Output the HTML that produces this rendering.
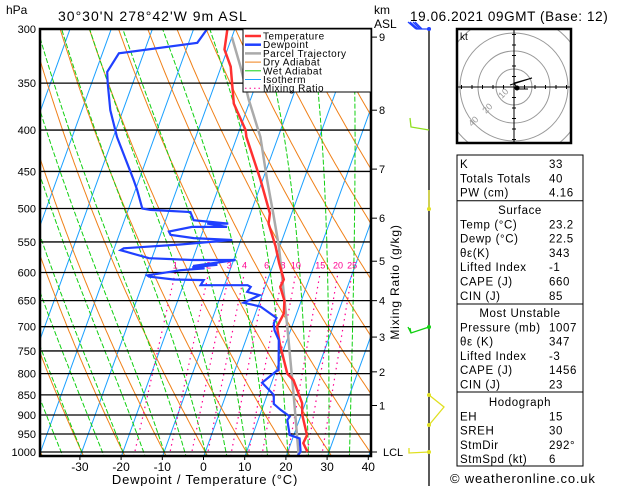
<!DOCTYPE html>
<html><head><meta charset="utf-8"><style>
html,body{margin:0;padding:0;background:#fff;}
svg{display:block;font-family:"Liberation Sans",sans-serif;}
#table text{letter-spacing:0.6px;}
</style></head><body>
<svg id="chart" width="629" height="486" viewBox="0 0 629 486" xmlns="http://www.w3.org/2000/svg">
<defs><clipPath id="plotclip"><rect x="40" y="29" width="331" height="427"/></clipPath>
<clipPath id="hodoclip"><rect x="457" y="29" width="114" height="114"/></clipPath></defs>
<rect width="629" height="486" fill="#fff"/>
<g id="bg" clip-path="url(#plotclip)"></g>
<g id="isobars"></g>
<g id="profiles" clip-path="url(#plotclip)"></g>
<rect x="40" y="29" width="331" height="427" fill="none" stroke="#000" stroke-width="2.5"/>
<text x="6" y="14" font-size="12">hPa</text>
<text x="58" y="21" font-size="14" letter-spacing="1">30°30'N  278°42'W  9m  ASL</text>
<text x="374" y="14" font-size="12">km</text>
<text x="374" y="28" font-size="12">ASL</text>
<text x="410" y="21" font-size="13.5" letter-spacing="0.6">19.06.2021  09GMT  (Base:  12)</text>
<text x="205" y="484" font-size="13" letter-spacing="0.8" text-anchor="middle">Dewpoint  /  Temperature  (°C)</text>
<text transform="translate(399,282) rotate(-90)" font-size="12" letter-spacing="0.8" text-anchor="middle">Mixing Ratio (g/kg)</text>
<g id="legend"></g>
<g id="axes"></g>
<g id="winds"></g>
<g id="hodo"></g>
<g id="table"></g>
<text x="450" y="483" font-size="13" letter-spacing="0.8">© weatheronline.co.uk</text>
</svg>
<script>
// ---- data ----
const tempP = [1000,975,953,900,870,815,800,734,700,674,650,625,612,584,557,522,507,461,408,400,371,350,334,318,300];
const tempT = [24.8,23.0,23.2,20.3,19.2,15.1,13.0,8.5,6.4,6.9,5.9,3.7,3.9,1.3,-1.0,-4.7,-5.3,-10.5,-17.7,-18.5,-23.7,-25.9,-27.7,-30.7,-31.8];
const dewP = [1013,999,962,953,913,904,887,872,850,821,796,792,727,707,693,683,661,654,640,634,625,622,622,613,612,607,605,596,593,591,587,589,583,579,579,576,563,560,554,547,544,539,534,527,527,522,522,517,505,502,500,474,461,408,378,350,339,321.5,312,300];
const dewT = [22.7,23.1,21.7,19.0,17.1,17.4,14.6,12.4,11.6,7.7,10.0,10.6,8.0,6.1,5.3,5.5,0.6,-3.8,-0.6,-3.9,-3.5,-4.4,-15.8,-15.5,-22.8,-29.1,-29.6,-22.0,-16.3,-19.4,-13.5,-19.3,-13.4,-9.5,-20.0,-30.7,-38.3,-37.7,-24.3,-12.1,-21.6,-27.5,-28.2,-23.0,-14.5,-19.6,-14.5,-23.2,-24.7,-34.6,-36.7,-39.6,-41.3,-49.1,-53.1,-56.1,-57.2,-56.0,-37.9,-36.7];
const parcelP = [1010,1000,854,700,557,507,461,408,367,334,307];
const parcelT = [22.9,22.6,16.6,8.9,-0.2,-4.5,-8.9,-14.3,-20.4,-25.3,-30];
const isobars = [300,350,400,450,500,550,600,650,700,750,800,850,900,950,1000];
const tempTicks = [-30,-20,-10,0,10,20,30,40];
const kmLabels = ['9','8','7','6','5','4','3','2','1','LCL'];
const kmPress = [307,378,447,514,581,650,721,796,876,1000];
const mixRatios = [1,2,3,4,6,8,10,15,20,25];
const dryThetaT = [-60,-50,-40,-30,-20,-10,0,10,20,30,40,50,60,70,80,90,100];
const wetT = [-40,-35,-30,-25,-20,-15,-10,-5,0,5,10,15,20,25,30,35];
const isoT = [-110,-100,-90,-80,-70,-60,-50,-40,-30,-20,-10,0,10,20,30,40];

const NS='http://www.w3.org/2000/svg';
function mk(tag,attrs,parent){const e=document.createElementNS(NS,tag);for(const k in attrs)e.setAttribute(k,attrs[k]);parent.appendChild(e);return e;}
function yP(p){return 29+Math.log(p/300)/Math.log(1000/300)*423;}
function xT(T,p){return 203.5+4.12*T+0.362*(457-yP(p));}
function pts(arrP,arrT){return arrP.map((p,i)=>xT(arrT[i],p).toFixed(1)+','+yP(p).toFixed(1)).join(' ');}
const bg=document.getElementById('bg');
const plevs=[];for(let p=1060;p>=280;p-=5)plevs.push(p);

isoT.forEach(t=>{
  const l=mk('line',{x1:xT(t,1060),y1:yP(1060),x2:xT(t,280),y2:yP(280),stroke:'#1aa0ff','stroke-width':1},bg);
  
  
});
dryThetaT.forEach(t=>{
  const th=t+273.15;
  const s=plevs.map(p=>xT(th*Math.pow(p/1000,0.2857)-273.15,p).toFixed(1)+','+yP(p).toFixed(1)).join(' ');
  const l=mk('polyline',{points:s,fill:'none',stroke:'#f08018','stroke-width':1},bg);
  
  
});
function es(tc){return 6.112*Math.exp(17.67*tc/(tc+243.5));}
function dTdp(T,p){const tc=T-273.15;const e=es(tc);const rs=0.622*e/(p-e);const Rd=287,Cp=1004,Lv=2.5e6;
  return (Rd*T+Lv*rs)/(p*(Cp+Lv*Lv*rs*0.622/(Rd*T*T)));}
wetT.forEach(t0=>{
  let T=t0+273.15;const arr=[];
  let Td=T;for(let p=1000;p<1060;p+=5){Td+=dTdp(Td,p)*5;}
  T=Td;
  for(let p=1060;p>=280;p-=5){arr.push(xT(T-273.15,p).toFixed(1)+','+yP(p).toFixed(1));T-=dTdp(T,p)*5;}
  const l=mk('polyline',{points:arr.join(' '),fill:'none',stroke:'#10d010','stroke-width':1,'stroke-dasharray':'5,2'},bg);
  
  
});
function tdw(w,p){const e=w*p/(622+w);const a=Math.log(e/6.112);return 243.5*a/(17.67-a);}
mixRatios.forEach(w=>{
  const l=mk('line',{x1:xT(tdw(w,1060),1060),y1:yP(1060),x2:xT(tdw(w,600),600),y2:yP(600),stroke:'#ff0090','stroke-width':1.2,'stroke-dasharray':'1.5,4'},bg);
  
  
  const tx=mk('text',{x:xT(tdw(w,600),600),y:yP(600)-4,'font-size':9,fill:'#ff0090','text-anchor':'middle'},bg);
  tx.textContent=String(w);
  
  
});
const ib=document.getElementById('isobars');
isobars.forEach(p=>{
  const y=yP(p);
  const l=mk('line',{x1:40,x2:371,y1:y,y2:y,stroke:'#000','stroke-width':1.3},ib);
  
  
  const t=mk('text',{x:36,y:y+4,'font-size':11,'text-anchor':'end'},ib);
  t.textContent=String(p);
  
  
});
const pr=document.getElementById('profiles');
let e;
e=mk('polyline',{points:pts(parcelP,parcelT),fill:'none',stroke:'#aaaaaa','stroke-width':2.5},pr);


e=mk('polyline',{points:pts(tempP,tempT),fill:'none',stroke:'#ff3030','stroke-width':2.5},pr);


e=mk('polyline',{points:pts(dewP,dewT),fill:'none',stroke:'#2040ff','stroke-width':2.2},pr);


const ax=document.getElementById('axes');
tempTicks.forEach(t=>{
  const x=203.5+4.12*t;
  const l=mk('line',{x1:x,x2:x,y1:456,y2:460,stroke:'#000'},ax);
  
  
  const tx=mk('text',{x:x,y:471,'font-size':12,'text-anchor':'middle'},ax);
  tx.textContent=String(t);
  
  
});
kmLabels.forEach((k,i)=>{
  const y=yP(kmPress[i]);
  const l=mk('line',{x1:371,x2:377,y1:y,y2:y,stroke:'#000'},ax);
  
  
  const tx=mk('text',{x:k==='LCL'?383:379,y:y+4,'font-size':11},ax);
  tx.textContent=k;
  
  
});
const lg=document.getElementById('legend');
mk('rect',{x:243,y:29,width:128,height:63,fill:'#fff',stroke:'#000','stroke-width':1},lg);
const legItems=[['Temperature','#ff3030',2.5,''],['Dewpoint','#2040ff',2.5,''],['Parcel Trajectory','#aaaaaa',2.5,''],['Dry Adiabat','#f08018',1,''],['Wet Adiabat','#10d010',1,''],['Isotherm','#1aa0ff',1,''],['Mixing Ratio','#ff0090',1,'1.5,3']];
legItems.forEach((it,i)=>{
  const y=36+i*8.7;
  const g=mk('g',{},lg);
  
  
  mk('line',{x1:245,x2:261,y1:y,y2:y,stroke:it[1],'stroke-width':it[2],'stroke-dasharray':it[3]},g);
  const t=mk('text',{x:263,y:y+3.5,'font-size':10,'letter-spacing':0.5},g);
  t.textContent=it[0];
});
const wd=document.getElementById('winds');
mk('line',{x1:429,x2:429,y1:29,y2:486,stroke:'#000','stroke-width':1.3},wd);
function barb(d,col){const p=mk('path',{d:d,fill:'none',stroke:col,'stroke-width':1.3},wd);}
barb('M429,29 L416,29 M416,29 L408,22 M418,29 L410,22 M420,29 L413,22 M422,29 L415,22','#2040ff');
mk('circle',{cx:429,cy:29,r:2,fill:'#2040ff'},wd);
barb('M429,130 L411,127 L410,118','#90e020');
barb('M429,209 L429,190','#e0e020');mk('circle',{cx:429,cy:209,r:2,fill:'#e0e020'},wd);
barb('M429,327 L411,333 L408,327 M411,333 L410,328','#10d010');mk('circle',{cx:429,cy:327,r:2,fill:'#10d010'},wd);
barb('M429,395 L444,407 L429,425','#e0e020');mk('circle',{cx:429,cy:395,r:2,fill:'#e0e020'},wd);mk('circle',{cx:429,cy:425,r:2,fill:'#e0e020'},wd);
barb('M429,452 L409,453 L409,448','#e0e020');mk('circle',{cx:429,cy:452,r:2,fill:'#e0e020'},wd);
const hd=document.getElementById('hodo');
const hc=mk('g',{'clip-path':'url(#hodoclip)'},hd);
[18,36,54,72].forEach(r=>{const c=mk('circle',{cx:514,cy:87,r:r,fill:'none',stroke:'#999','stroke-width':1},hc);});
mk('line',{x1:457,x2:571,y1:87,y2:87,stroke:'#000'},hd);
mk('line',{x1:514,x2:514,y1:29,y2:143,stroke:'#000'},hd);
for(let i=-5;i<=5;i++){if(!i)continue;const v=514+i*10.5;mk('line',{x1:v,x2:v,y1:85,y2:89,stroke:'#000'},hd);const w=87+i*10.5;mk('line',{x1:512,x2:516,y1:w,y2:w,stroke:'#000'},hd);}
mk('rect',{x:457,y:29,width:114,height:114,fill:'none',stroke:'#000','stroke-width':2.5},hd);
let tt=mk('text',{x:460,y:40,'font-size':10},hd);tt.textContent='kt';
[['10',502,99],['20',486,114],['40',472,127]].forEach(a=>{const t=mk('text',{x:a[1],y:a[2],'font-size':9,fill:'#999',transform:'rotate(-45 '+a[1]+' '+a[2]+')'},hd);t.textContent=a[0];});
mk('path',{d:'M510,85 L532,78 L514,83 L518,89 L528,89',fill:'none',stroke:'#000','stroke-width':1},hd);
mk('circle',{cx:517,cy:88,r:2.5,fill:'#000'},hd);
const tb=document.getElementById('table');
mk('rect',{x:457,y:155,width:126,height:311,fill:'none',stroke:'#000','stroke-width':1},tb);
[200.7,304,392].forEach(y=>mk('line',{x1:457,x2:583,y1:y,y2:y,stroke:'#000'},tb));
const rows=[
 [164,'K','33'],[178.3,'Totals Totals','40'],[192.6,'PW (cm)','4.16'],
 [210,'Surface',null],[224.3,'Temp (°C)','23.2'],[238.6,'Dewp (°C)','22.5'],[252.9,'θε(K)','343'],[267.2,'Lifted Index','-1'],[281.5,'CAPE (J)','660'],[295.8,'CIN (J)','85'],
 [313,'Most Unstable',null],[327.3,'Pressure (mb)','1007'],[341.6,'θε (K)','347'],[355.9,'Lifted Index','-3'],[370.2,'CAPE (J)','1456'],[384.5,'CIN (J)','23'],
 [402,'Hodograph',null],[416.3,'EH','15'],[430.6,'SREH','30'],[444.9,'StmDir','292°'],[459.2,'StmSpd (kt)','6']];
rows.forEach(r=>{
  const y=r[0]+4;
  if(r[2]===null){const t=mk('text',{x:520,y:y,'font-size':11.5,'text-anchor':'middle'},tb);t.textContent=r[1];}
  else{const a=mk('text',{x:460,y:y,'font-size':11.5},tb);a.textContent=r[1];
  const b=mk('text',{x:549,y:y,'font-size':11.5},tb);b.textContent=r[2];}
});
</script>
</body></html>
